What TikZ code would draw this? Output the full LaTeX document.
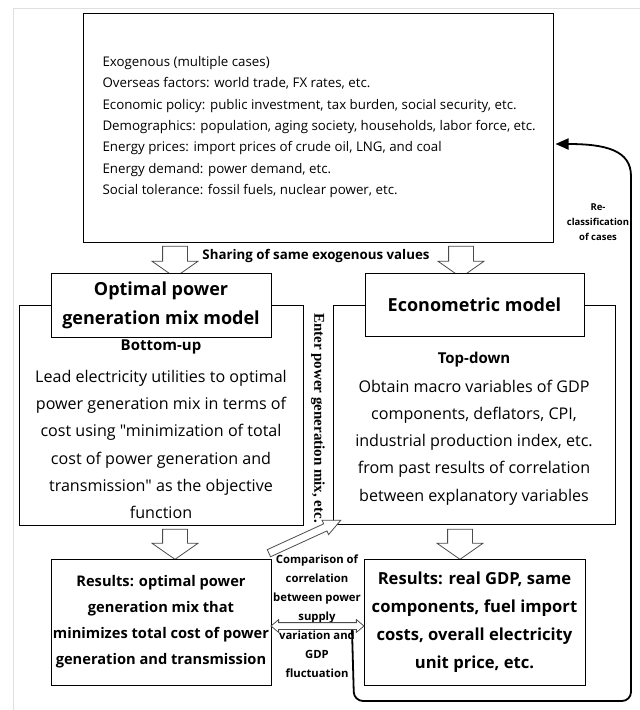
\documentclass[tikz,border=0pt]{standalone}
\usepackage{fontspec}
\setmainfont{Open Sans}[Ligatures=TeXOff]
\newfontfamily\vertfont{Liberation Serif}
\usetikzlibrary{shapes.arrows,arrows.meta,calc}

\tikzset{
  box/.style={draw, line width=1pt, fill=white, inner sep=0pt},
  hollow/.style={shape=single arrow, draw=black!70, line width=0.8pt,
    fill=white, inner xsep=0pt, inner ysep=12pt, single arrow head extend=10.5pt,
    single arrow tip angle=110},
  hollowdbl/.style={shape=double arrow, draw=black!70, line width=0.8pt,
    fill=white, inner xsep=0pt, inner ysep=3pt, double arrow head extend=3pt,
    double arrow tip angle=80},
}

\begin{document}
\begin{tikzpicture}[x=1pt, y=-1pt, text=black]
\useasboundingbox (0,0) rectangle (640,710);
% page frame
\draw [gray!25, line width=1pt] (640,8) -- (13,8) -- (13,710);

% exogenous cases
\path (318,127.5) node (exo) [box, minimum width=470, minimum height=229] {};
\path (99,127) node [anchor=west, align=left,
  font=\fontsize{13.3}{21.3}\selectfont]
  {Exogenous (multiple cases)\\
   Overseas factors: world trade, FX rates, etc.\\
   Economic policy: public investment, tax burden, social security, etc.\\
   Demographics: population, aging society, households, labor force, etc.\\
   Energy prices: import prices of crude oil, LNG, and coal\\
   Energy demand: power demand, etc.\\
   Social tolerance: fossil fuels, nuclear power, etc.};

\path (175,257.5) node (arrL1) [hollow, rotate=-90, minimum height=31] {};
\path (461,257.5) node (arrR1) [hollow, rotate=-90, minimum height=31] {};
\path (316,256) node (share) [font=\bfseries\fontsize{13.3}{14}\selectfont]
  {Sharing of same exogenous values};

% bottom-up model
\path (161,415) node (bottomup) [box, minimum width=284, minimum height=220] {};
\path (161,305) node (optitle) [box, minimum width=220, minimum height=64,
  align=center, font=\bfseries\fontsize{18}{29}\selectfont]
  {Optimal power\\generation mix model};
\path (161,347) node [font=\bfseries\fontsize{15}{17}\selectfont] {Bottom-up};
\path (161,444.5) node [align=center, font=\fontsize{16.1}{27.3}\selectfont]
  {Lead electricity utilities to optimal\\
   power generation mix in terms of\\
   cost using "minimization of total\\
   cost of power generation and\\
   transmission" as the objective\\
   function};

% top-down model
\path (474,414.5) node (topdown) [box, minimum width=282, minimum height=219] {};
\path (474.5,304.5) node (ectitle) [box, minimum width=219, minimum height=63,
  font=\bfseries\fontsize{18}{20}\selectfont] {Econometric model};
\path (474,360) node [font=\bfseries\fontsize{15}{17}\selectfont] {Top-down};
\path (474,442.5) node [align=center, font=\fontsize{16.1}{27.25}\selectfont]
  {Obtain macro variables of GDP\\
   components, deflators, CPI,\\
   industrial production index, etc.\\
   from past results of correlation\\
   between explanatory variables};

\path (318,418) node (entermix) [rotate=-90,
  font=\vertfont\bfseries\fontsize{15}{15}\selectfont]
  {Enter power generation mix, etc.};

\path (175,540) node (arrL2) [hollow, rotate=-90, minimum height=30] {};
\path (460,540) node (arrR2) [hollow, rotate=-90, minimum height=30] {};

% results
\path (161,622) node (resL) [box, minimum width=220, minimum height=126,
  align=center, font=\bfseries\fontsize{14.65}{26}\selectfont]
  {Results: optimal power\\
   generation mix that\\
   minimizes total cost of power\\
   generation and transmission};
\path (474.5,622) node (resR) [box, minimum width=221, minimum height=126,
  align=center, font=\bfseries\fontsize{16.6}{28}\selectfont]
  {Results: real GDP, same\\
   components, fuel import\\
   costs, overall electricity\\
   unit price, etc.};

\path (301,538.5) node (diag) [hollow, rotate=24.6, minimum height=79,
  inner ysep=3.5pt, single arrow head extend=4pt, single arrow tip angle=50] {};

\path (317,616) node (compare) [align=center,
  font=\bfseries\fontsize{11.3}{19}\selectfont]
  {Comparison of\\correlation\\between power\\supply\\variation and\\GDP\\fluctuation};
\path (317.5,626) node (dbl) [hollowdbl, minimum height=93] {};

% feedback loop
\coordinate (loopstart) at (352,630);
\draw [line width=1.8pt, -{Triangle[length=13pt,width=11pt]}]
  (loopstart) [rounded corners=9pt] -- (354,701) -- (631,701) -- (631,185)
  [sharp corners] .. controls (631,150) and (605,144) .. ($(exo.east)+(2,16.5)$);
\path (598,222) node (reclass) [align=center,
  font=\bfseries\fontsize{9.5}{15}\selectfont]
  {Re-\\classification\\of cases};
\end{tikzpicture}
\end{document}
